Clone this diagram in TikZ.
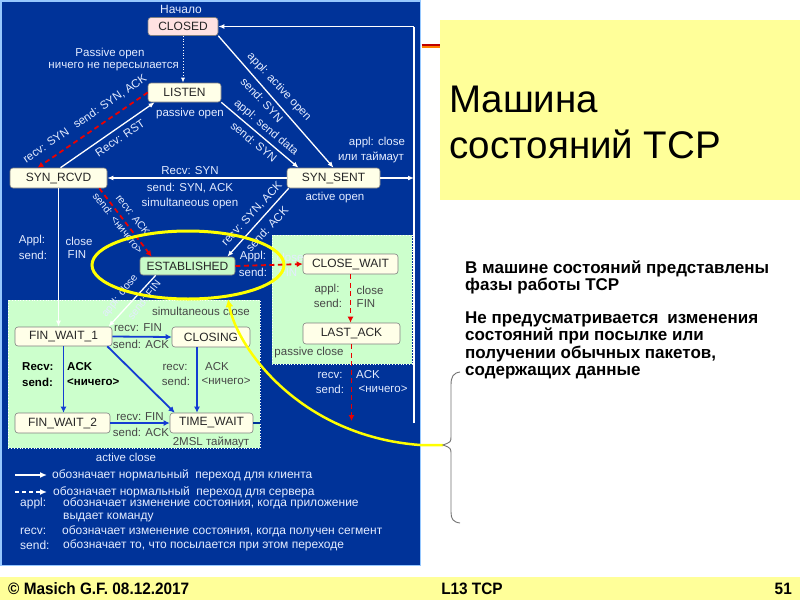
\documentclass[tikz,border=0pt]{standalone}
\usepackage{fontspec}
\setmainfont{Liberation Sans}
\newfontfamily\narrowfont[FakeStretch=0.93]{Liberation Sans}
\usetikzlibrary{arrows.meta}
\definecolor{panel}{RGB}{0,51,153}
\definecolor{panelborder}{RGB}{150,200,255}
\definecolor{footy}{RGB}{255,255,153}
\definecolor{gbox}{RGB}{204,255,204}
\definecolor{gnode}{RGB}{200,250,200}
\definecolor{cream}{RGB}{255,255,232}
\definecolor{pinkc}{RGB}{255,226,226}
\definecolor{labc}{RGB}{228,236,255}
\definecolor{barrow}{RGB}{20,60,210}
\definecolor{yel}{RGB}{255,255,0}
\definecolor{redd}{RGB}{235,0,0}
\tikzset{
  st/.style={draw=black!50, rounded corners=3pt, fill=cream, minimum height=19pt,
    inner sep=0pt, font=\fontsize{12}{14}\selectfont, text=black!85, line width=0.6pt},
  lab/.style={font=\fontsize{11.5}{13}\selectfont, text=labc, inner sep=0pt},
  slab/.style={lab, font=\fontsize{10.5}{12}\selectfont},
  leg/.style={lab, anchor=west, font=\fontsize{12}{14}\selectfont},
  glab/.style={lab, text=black!72},
  blab/.style={lab, text=black, font=\bfseries\fontsize{11.5}{13}\selectfont},
  wline/.style={draw=white, line width=1.3pt, -{Latex[length=6pt,width=5pt]}},
  rline/.style={draw=redd, line width=1.8pt, dash pattern=on 5pt off 3.5pt, -{Latex[length=6pt,width=6pt]}},
  bline/.style={draw=barrow, line width=1.8pt, -{Latex[length=6pt,width=6pt]}},
  body/.style={anchor=base west, inner sep=0pt, font=\bfseries\fontsize{17}{19}\selectfont},
  foot/.style={inner sep=0pt, font=\narrowfont\bfseries\fontsize{16.5}{18}\selectfont}
}
\begin{document}
\begin{tikzpicture}[x=1pt,y=-1pt]
\useasboundingbox (0,0) rectangle (800,600);
\fill[white] (0,0) rectangle (800,600);
% panel
\fill[panel] (0,0) rectangle (421,566);
\draw[panelborder, line width=1.5pt] (0.75,0.75) rectangle (420.5,565.5);
% footer band and title box
\fill[footy] (0,577) rectangle (800,600);
\fill[footy] (440,20) rectangle (800,200);
\draw[red!75!black, line width=2pt] (421.5,45) -- (440,45);
\draw[orange, line width=2pt] (421.5,47) -- (440,47);
% green areas
\fill[gbox] (8,300) rectangle (260,448);
\draw[white, dotted, line width=0.8pt] (8,300) rectangle (260,448);
\fill[gbox] (272,235) rectangle (412,364);
\draw[white, dotted, line width=0.8pt] (272,235) rectangle (412,364);

% states
\node[st, fill=pinkc, minimum width=70pt, minimum height=18pt] (closed) at (183,26.5) {CLOSED};
\node[st, minimum width=73pt] (listen) at (184.5,92.5) {LISTEN};
\node[st, minimum width=97pt, minimum height=20pt] (synrcvd) at (58.5,178) {SYN\_RCVD};
\node[st, minimum width=93pt, minimum height=20pt] (synsent) at (333.5,178) {SYN\_SENT};
\node[st, fill=gnode, minimum width=95pt, minimum height=18pt] (estab) at (187.5,266) {ESTABLISHED};
\node[st, minimum width=95pt, minimum height=20pt] (closewait) at (350.5,264) {CLOSE\_WAIT};
\node[st, minimum width=97pt, minimum height=21pt] (lastack) at (351.5,333.5) {LAST\_ACK};
\node[st, minimum width=97pt] (finwait1) at (63.5,336.5) {FIN\_WAIT\_1};
\node[st, minimum width=78pt, minimum height=20pt] (closing) at (211,337) {CLOSING};
\node[st, minimum width=95pt, minimum height=20pt] (finwait2) at (62.5,423) {FIN\_WAIT\_2};
\node[st, minimum width=83pt, minimum height=20pt] (timewait) at (211.5,423) {TIME\_WAIT};

% helper coordinates
\coordinate (rb) at (414,423);
\coordinate (rt) at (414,26.5);
\coordinate (rs) at (414,178);
\coordinate (la) at (351.5,421);

% white (client) transitions
\draw[white, line width=0.8pt, dotted, -{Latex[length=5pt,width=4pt]}] (closed.south) -- (closed.south |- listen.north);
\draw[white, line width=0.6pt, double=panel, double distance=1.6pt] (timewait.east) -- (rb);
\draw[white, line width=1.3pt] (rb) -- (rt);
\draw[wline] (rt) -- (closed.east);
\draw[wline] (synsent.east) -- (rs);
\draw[wline] (closed.south east) -- (synsent.north);
\draw[wline] (listen.south east) -- ([xshift=-35pt]synsent.north);
\draw[wline] (synsent.west) -- (synrcvd.east);
\draw[wline] ([xshift=2pt]synrcvd.north) -- ([xshift=7pt]listen.south west);
\draw[wline] ([xshift=2pt]synsent.south west) -- ([xshift=-8pt]estab.north east);
\draw[wline] (synrcvd.south) -- (synrcvd.south |- finwait1.north);
\draw[wline] ([xshift=16pt]estab.south west) -- ([xshift=45pt]finwait1.north);

% red (server) transitions
\draw[rline] (listen.west) -- ([xshift=-21pt]synrcvd.north);
\draw[rline] ([xshift=-8pt]synrcvd.south east) -- ([xshift=12pt]estab.north west);
\draw[rline] (estab.east) -- (closewait.west);
\draw[rline] (closewait.south) -- (closewait.south |- lastack.north);
\draw[rline] (lastack.south) -- (la);

% blue transitions
\draw[bline] (finwait1.east) -- (closing.west);
\draw[bline] (finwait1.south) -- (finwait1.south |- finwait2.north);
\draw[bline] ([xshift=-5pt]finwait1.south east) -- ([xshift=5pt]timewait.north west);
\draw[bline] ([xshift=-14pt]closing.south) -- ([xshift=-14pt]closing.south |- timewait.north);
\draw[bline] (finwait2.east) -- (timewait.west);

% labels on blue
\node[lab, font=\fontsize{12}{14}\selectfont] (tstart) at (181,9) {Начало};
\node[lab] (tpo1) at (110,53.5) {Passive open};
\node[lab, anchor=east] (tpo2) at (179,67) {ничего не пересылается};
\node[lab] (tpo3) at (190,114) {passive open};
\node[lab] (tso1) at (190,171) {Recv: SYN};
\node[lab] (tso2) at (190,188) {send: SYN, ACK};
\node[lab] (tso3) at (190,204) {simultaneous open};
\node[lab] (tao) at (335,198) {active open};
\node[lab] (tac1) at (377,143) {appl: close};
\node[lab] (tac2) at (371,157) {или таймаут};
\node[lab, rotate=34] (trst) at (120,138) {Recv: RST};
\node[lab, rotate=34.5] (tls) at (85,119) {recv: SYN\hspace{5pt} send: SYN, ACK};
\node[lab, rotate=-47] (tca1) at (279,87) {appl: active open};
\node[lab, rotate=-47] (tca2) at (262,100) {send: SYN};
\node[lab, rotate=-40] (tls1) at (266,128) {appl: send data};
\node[lab, rotate=-40] (tls2) at (254,142) {send: SYN};
\node[slab, rotate=-52] (tre1) at (133,215) {recv: ACK};
\node[slab, rotate=-52] (tre2) at (118,223) {send: <ничего>};
\node[lab, rotate=47] (tse1) at (252,214) {recv: SYN, ACK};
\node[lab, rotate=47] (tse2) at (267,229) {send: ACK};
\node[slab, rotate=52] (tef1) at (120,296) {appl: close};
\node[slab, rotate=52] (tef2) at (144,300) {send: FIN};
\node[lab] (tcf1) at (32,241) {Appl:};
\node[lab] (tcf2) at (79,241) {close};
\node[lab] (tcf3) at (33,255) {send:};
\node[lab] (tcf4) at (77,255) {FIN};
\node[lab] (tec1) at (253,257) {Appl:};
\node[lab] (tec2) at (290,257) {close};
\node[lab] (tec3) at (253,272.5) {send:};
\node[lab] (tec4) at (288,272.5) {FIN};
\node[lab] (tla1) at (330,375) {recv:};
\node[lab] (tla2) at (368,375) {ACK};
\node[lab] (tla3) at (330,389) {send:};
\node[lab] (tla4) at (383,389) {<ничего>};
\node[lab] (tacl) at (126,457) {active close};

% labels on green
\node[glab] (tcw1) at (327,290) {appl:};
\node[glab] (tcw2) at (370,290) {close};
\node[glab] (tcw3) at (328,303.5) {send:};
\node[glab] (tcw4) at (366,303.5) {FIN};
\node[glab] (tpc) at (309,353) {passive close};
\node[glab] (tsc) at (201,311) {simultaneous close};
\node[glab] (tfc1) at (138,328) {recv: FIN};
\node[glab] (tfc2) at (141,344) {send: ACK};
\node[blab, anchor=west] (tf21) at (22,367) {Recv:};
\node[blab, anchor=west] (tf22) at (67,367) {ACK};
\node[blab, anchor=west] (tf23) at (22,382) {send:};
\node[blab, anchor=west] (tf24) at (67,382) {<ничего>};
\node[glab] (tct1) at (175,367) {recv:};
\node[glab] (tct2) at (217,367) {ACK};
\node[glab] (tct3) at (176,381) {send:};
\node[glab] (tct4) at (226,381) {<ничего>};
\node[glab] (tft1) at (140,417) {recv:\hspace{4pt}FIN};
\node[glab] (tft2) at (141,432) {send: ACK};
\node[glab] (t2msl) at (211,442) {2MSL таймаут};

% legend
\coordinate (lg1a) at (15,475); \coordinate (lg1b) at (47,475);
\coordinate (lg2a) at (15,492); \coordinate (lg2b) at (47,492);
\draw[white, line width=1.8pt, -{Latex[length=7pt,width=6pt]}] (lg1a) -- (lg1b);
\draw[white, line width=1.8pt, dash pattern=on 4pt off 3pt, -{Latex[length=7pt,width=6pt]}] (lg2a) -- (lg2b);
\node[leg] (lgt1) at (52,475) {обозначает нормальный\hspace{3pt} переход для клиента};
\node[leg] (lgt2) at (53,492) {обозначает нормальный\hspace{3pt} переход для сервера};
\node[leg] (lgk1) at (20,503.5) {appl:};
\node[leg] (lgt3) at (63,503.5) {обозначает изменение состояния, когда приложение};
\node[leg] (lgt4) at (63,518) {выдает команду};
\node[leg] (lgk2) at (20,531) {recv:};
\node[leg] (lgt5) at (62,531) {обозначает изменение состояния, когда получен сегмент};
\node[leg] (lgk3) at (20,545.5) {send:};
\node[leg] (lgt6) at (63,545.5) {обозначает то, что посылается при этом переходе};

% yellow highlight
\draw[yel, line width=3pt] (188,265) ellipse [x radius=96pt, y radius=34pt];
\coordinate (ytip) at (228,299);
\coordinate (yend) at (420,445);
\coordinate (bracetip) at (443,445);
\draw[yel, line width=2.5pt, {Latex[length=8pt,width=8pt]}-] (ytip) .. controls (237,348) and (300,436) .. (yend) -- (bracetip);
% brace
\draw[black!55, line width=0.9pt] (460,372) .. controls (453,373) and (451,377) .. (451,385) -- (451,436)
  .. controls (451,442) .. (bracetip) .. controls (451,448) .. (451,455) -- (451,512)
  .. controls (451,519) and (453,522) .. (460,523);

% title and text
\node[anchor=base west, inner sep=0pt, font=\fontsize{38.5}{44}\selectfont] (title1) at (449,112) {Машина};
\node[anchor=base west, inner sep=0pt, font=\fontsize{38.5}{44}\selectfont] (title2) at (449,158) {состояний TCP};
\node[body] (b1) at (465,273) {В машине состояний представлены};
\node[body] (b2) at (465,290.5) {фазы работы TCP};
\node[body] (b3) at (465,323) {Не предусматривается\hspace{4pt} изменения};
\node[body] (b4) at (465,340.5) {состояний при посылке или};
\node[body] (b5) at (465,358) {получении обычных пакетов,};
\node[body] (b6) at (465,375.5) {содержащих данные};

% footer
\node[foot, anchor=west] (f1) at (8,588.5) {© Masich G.F. 08.12.2017};
\node[foot] (f2) at (472,588.5) {L13 TCP};
\node[foot, anchor=east] (f3) at (792,588.5) {51};
\end{tikzpicture}
\end{document}
